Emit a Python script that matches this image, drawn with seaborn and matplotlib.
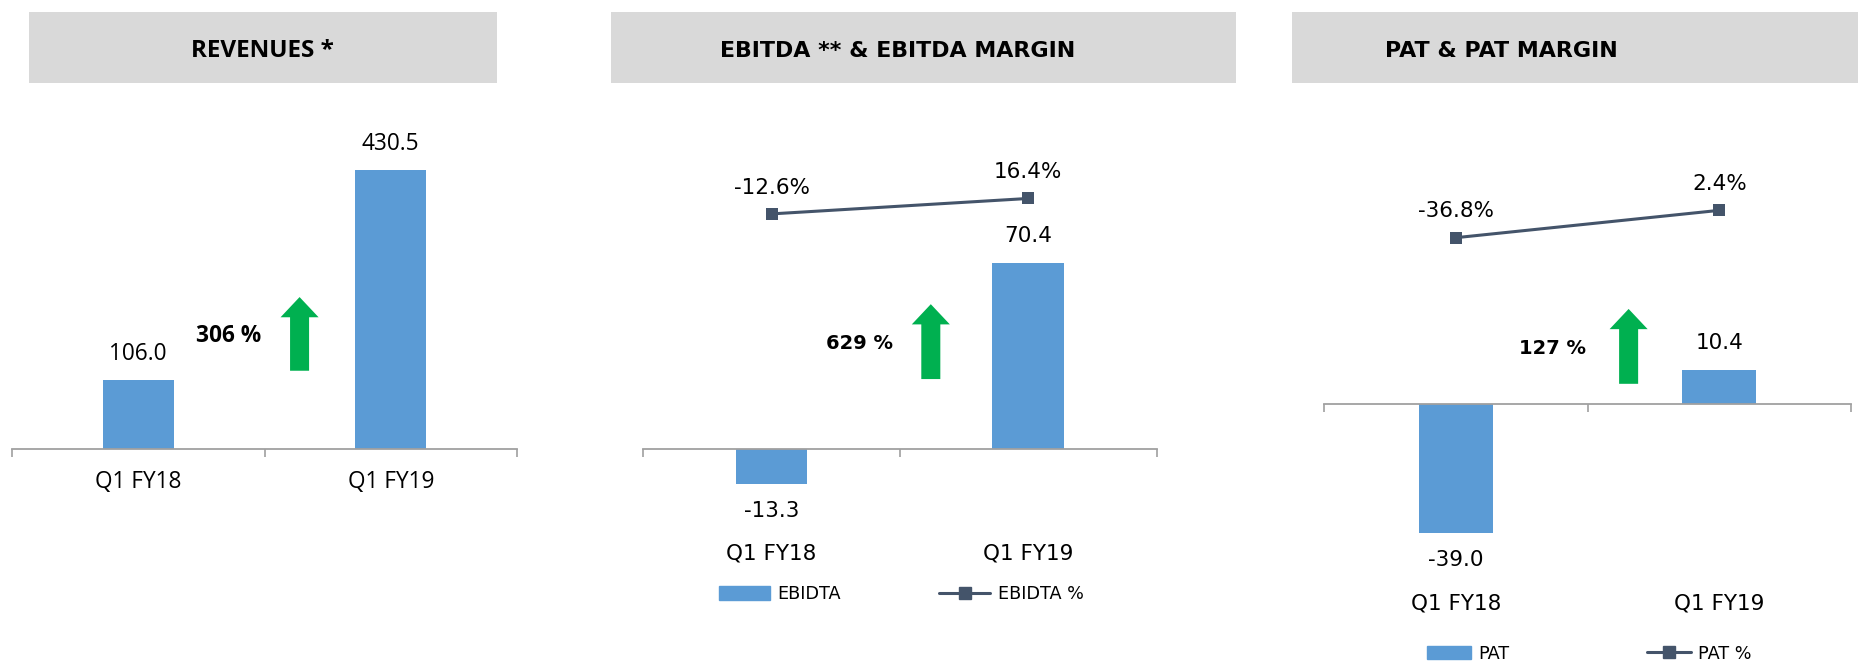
import numpy as np
import pandas as pd
import matplotlib
matplotlib.use("Agg")
import matplotlib.pyplot as plt
from matplotlib.patches import Rectangle, FancyArrow, Patch
from matplotlib.lines import Line2D
import seaborn as sns

# data
periods = ['Q1 FY18', 'Q1 FY19']
revenue = [106.0, 430.5]
ebitda = [-13.3, 70.4]
ebitda_margin = [-12.6, 16.4]
pat = [-39.0, 10.4]
pat_margin = [-36.8, 2.4]
growth = ['306 %', '629 %', '127 %']

BAR = '#5B9BD5'
LINE = '#44546A'
GREEN = '#00B050'
BOX = '#D9D9D9'
AXC = '#A0A0A0'

sns.set_theme(style='white')
plt.rcParams['font.family'] = ['DejaVu Sans']
plt.rcParams['text.color'] = 'black'

fig = plt.figure(figsize=(18.64, 6.69), dpi=100)

# layout helpers, coordinates measured on a 1568x563 copy of the slide
W, H = 1568.0, 563.0
def fx(x):
    return x / W
def fy(y):
    return 1 - y / H

T, B = 90, 540  # vertical extent of every chart area


def panel(x0, x1, values, ylim, font, size, label_off, tick_off):
    ax = fig.add_axes([fx(x0), fy(B), fx(x1) - fx(x0), fy(T) - fy(B)])
    df = pd.DataFrame({'period': periods, 'value': values})
    sns.barplot(data=df, x='period', y='value', color=BAR, width=0.28,
                saturation=1, ax=ax, linewidth=0)
    ax.set_xlim(-0.5, 1.5)
    ax.set_ylim(*ylim)
    ax.set_facecolor('none')
    for s in ['top', 'left', 'right']:
        ax.spines[s].set_visible(False)
    ax.spines['bottom'].set_position(('data', 0))
    ax.spines['bottom'].set_color(AXC)
    ax.spines['bottom'].set_linewidth(1.3)
    ax.set_yticks([])
    ax.set_xlabel('')
    ax.set_ylabel('')
    ax.set_xticks([-0.5, 0.5, 1.5], minor=True)
    ax.tick_params(axis='x', which='minor', bottom=True, length=6, width=1.2,
                   color=AXC, direction='out')
    ax.tick_params(axis='x', which='major', bottom=False, length=0, pad=tick_off,
                   labelsize=size, labelcolor='black')
    for lab in ax.get_xticklabels():
        lab.set_va('center')
        lab.set_family(font)
    for i, v in enumerate(values):
        off = label_off if v >= 0 else -label_off
        ax.annotate(f'{v:.1f}', xy=(i, v), xytext=(0, off), textcoords='offset points',
                    ha='center', va='center', fontsize=size, family=font, color='black')
    return ax


def margin_line(ax, values, ylim, size, label_off):
    ax2 = ax.twinx()
    sns.lineplot(x=np.arange(len(values)), y=values, color=LINE, marker='s',
                 markersize=8, markeredgewidth=0, linewidth=2.2, ax=ax2)
    ax2.set_ylim(*ylim)
    ax2.set_xlim(-0.5, 1.5)
    ax2.axis('off')
    for i, v in enumerate(values):
        ax2.annotate(f'{v:.1f}%', xy=(i, v), xytext=(0, label_off),
                     textcoords='offset points', ha='center', va='center', fontsize=size,
                     color='black')
    return ax2


def title_box(x0, x1, tx, text, font, size):
    fig.add_artist(Rectangle((fx(x0), fy(70)), fx(x1) - fx(x0), fy(10) - fy(70),
                             transform=fig.transFigure, facecolor=BOX, edgecolor='none'))
    fig.text(fx(tx), fy(43), text, ha='center', va='center', fontsize=size,
             fontweight='bold', family=font, color='black')


def up_arrow(xc, ytop, ybot, label, lx, ly, font, size):
    fig.add_artist(FancyArrow(fx(xc), fy(ybot), 0, fy(ytop) - fy(ybot),
                              width=fx(16), head_width=fx(32), head_length=fy(0) - fy(17),
                              length_includes_head=True, transform=fig.transFigure,
                              color=GREEN, linewidth=0))
    fig.text(fx(lx), fy(ly), label, ha='center', va='center', fontsize=size,
             fontweight='bold', family=font, color='black')


# revenues
title_box(24, 418, 221, 'REVENUES *', 'Open Sans', 17.5)
panel(10, 435, revenue, (-296.8, 527.6), 'Open Sans', 16.3, 19, 24)
up_arrow(252, 250, 312, growth[0], 192, 283, 'Open Sans', 16.3)

# ebitda
title_box(514, 1040, 755, 'EBITDA ** & EBITDA MARGIN', 'DejaVu Sans', 15.9)
ax_e = panel(541, 973, ebitda, (-72.6, 129.1), 'DejaVu Sans', 15.5, 19, 75)
margin_line(ax_e, ebitda_margin, (-815.7, 188.2), 15.5, 19)
up_arrow(783, 256, 319, growth[1], 723, 289, 'DejaVu Sans', 14)
ax_e.legend([Patch(color=BAR), Line2D([], [], color=LINE, marker='s', markersize=8, lw=2.2)],
            ['EBIDTA', 'EBIDTA %'], loc='center', bbox_to_anchor=(fx(758), fy(500)),
            bbox_transform=fig.transFigure, ncol=2, frameon=False, fontsize=12.7,
            handlelength=2.9, handletextpad=0.4, columnspacing=5.6, handleheight=0.8,
            labelcolor='black')

# pat
title_box(1087, 1563, 1263, 'PAT & PAT MARGIN', 'DejaVu Sans', 15.9)
ax_p = panel(1114, 1557, pat, (-71.7, 89.6), 'DejaVu Sans', 15.5, 19, 143.8)
margin_line(ax_p, pat_margin, (-616.2, 150.7), 15.5, 19)
up_arrow(1370, 260, 323, growth[2], 1306, 293, 'DejaVu Sans', 14)
ax_p.legend([Patch(color=BAR), Line2D([], [], color=LINE, marker='s', markersize=8, lw=2.2)],
            ['PAT', 'PAT %'], loc='center', bbox_to_anchor=(fx(1337), fy(550)),
            bbox_transform=fig.transFigure, ncol=2, frameon=False, fontsize=12.7,
            handlelength=2.5, handletextpad=0.4, columnspacing=7.8, handleheight=0.8,
            labelcolor='black')

fig.savefig('out.png', dpi=100)
